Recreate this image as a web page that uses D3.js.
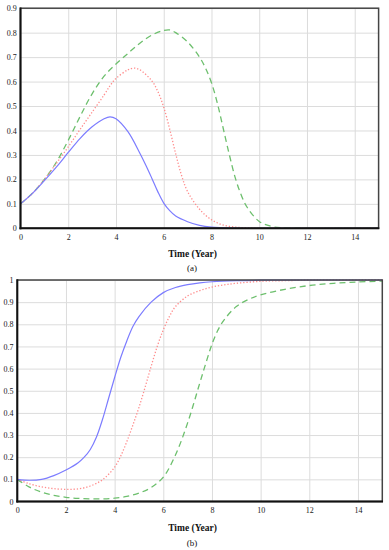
<!DOCTYPE html>
<html>
<head>
<meta charset="utf-8">
<script src="https://cdn.jsdelivr.net/npm/d3@7"></script>
<style>
  body { margin: 0; background: #fff; }
  svg { display: block; }
  text { font-family: "Liberation Serif", "Times New Roman", serif; }
</style>
</head>
<body>
<svg id="chart" width="389" height="550"></svg>
<script>
// panel (a)
const blueTimeA = [0, 0.5, 1, 1.5, 2, 2.5, 3, 3.5, 3.75, 4, 4.5, 5, 5.25, 5.5, 5.75, 6, 6.25, 6.5, 7, 7.5, 8, 9, 10, 15];
const blueA = [0.1, 0.143, 0.195, 0.25, 0.31, 0.368, 0.415, 0.448, 0.456, 0.448, 0.395, 0.307, 0.258, 0.205, 0.15, 0.103, 0.072, 0.05, 0.027, 0.012, 0.005, 0.001, 0, 0];
const redTimeA = [0, 0.5, 1, 1.5, 2, 2.5, 3, 3.5, 3.75, 4, 4.5, 4.75, 5, 5.5, 5.75, 6, 6.25, 6.5, 6.75, 7, 7.5, 8, 8.5, 9, 9.5, 10, 15];
const redA = [0.1, 0.143, 0.2, 0.265, 0.333, 0.405, 0.475, 0.545, 0.583, 0.613, 0.648, 0.655, 0.648, 0.603, 0.56, 0.495, 0.405, 0.305, 0.215, 0.15, 0.078, 0.035, 0.013, 0.005, 0.002, 0, 0];
const greenTimeA = [0, 0.5, 1, 1.5, 2, 2.5, 3, 3.5, 4, 4.5, 5, 5.5, 6, 6.25, 6.5, 7, 7.5, 7.75, 8, 8.25, 8.5, 8.75, 9, 9.25, 9.5, 10, 10.5, 11, 12, 15];
const greenA = [0.1, 0.143, 0.2, 0.27, 0.36, 0.458, 0.55, 0.622, 0.672, 0.715, 0.757, 0.79, 0.809, 0.811, 0.8, 0.762, 0.7, 0.655, 0.595, 0.51, 0.405, 0.3, 0.205, 0.135, 0.085, 0.028, 0.008, 0.002, 0, 0];

// panel (b)
const blueTimeB = [0, 0.5, 1, 1.5, 2, 2.5, 2.75, 3, 3.25, 3.5, 3.75, 4, 4.25, 4.5, 4.75, 5, 5.5, 6, 6.5, 7, 7.5, 8, 9, 10, 12, 15];
const blueB = [0.1, 0.096, 0.1, 0.117, 0.142, 0.175, 0.2, 0.235, 0.29, 0.37, 0.465, 0.56, 0.65, 0.725, 0.79, 0.835, 0.9, 0.943, 0.966, 0.979, 0.987, 0.992, 0.997, 0.999, 1, 1];
const redTimeB = [0, 0.5, 1, 1.5, 2, 2.5, 3, 3.5, 4, 4.25, 4.5, 4.75, 5, 5.25, 5.5, 5.75, 6, 6.25, 6.5, 7, 7.5, 8, 8.5, 9, 10, 11, 12, 15];
const redB = [0.1, 0.08, 0.066, 0.058, 0.055, 0.057, 0.07, 0.098, 0.155, 0.205, 0.27, 0.345, 0.425, 0.515, 0.61, 0.7, 0.775, 0.835, 0.88, 0.928, 0.952, 0.968, 0.978, 0.985, 0.994, 0.997, 0.999, 1];
const greenTimeB = [0, 0.5, 1, 1.5, 2, 2.5, 3, 3.5, 4, 4.5, 5, 5.5, 6, 6.5, 7, 7.5, 7.75, 8, 8.25, 8.5, 9, 9.5, 10, 11, 12, 13, 14, 15];
const greenB = [0.1, 0.065, 0.042, 0.028, 0.019, 0.014, 0.012, 0.012, 0.015, 0.023, 0.038, 0.063, 0.11, 0.21, 0.355, 0.535, 0.625, 0.71, 0.775, 0.82, 0.88, 0.912, 0.933, 0.958, 0.975, 0.985, 0.991, 0.995];

const xTicks = [0, 2, 4, 6, 8, 10, 12, 14];
const yTicksA = [0, 0.1, 0.2, 0.3, 0.4, 0.5, 0.6, 0.7, 0.8, 0.9];
const yTicksB = [0, 0.1, 0.2, 0.3, 0.4, 0.5, 0.6, 0.7, 0.8, 0.9, 1];
const xTitle = 'Time (Year)';

const styles = {
    green: { color: '#6dbf6d', dash: '6,4', width: 1.3 },
    red: { color: '#ff8c8c', dash: '1.3,1.9', width: 1.3 },
    blue: { color: '#7c7cff', dash: null, width: 1.2 }
};

const svg = d3.select('#chart');

drawPanel({ left: 20.5, right: 378.6, top: 8.2, bottom: 228.3, yMax: 0.9, yTicks: yTicksA,
    series: [['green', greenTimeA, greenA], ['red', redTimeA, redA], ['blue', blueTimeA, blueA]],
    xPad: 5.7, titleY: 257, tagY: 270.5, tag: '(a)' });
drawPanel({ left: 17.3, right: 382.3, top: 280, bottom: 501.5, yMax: 1, yTicks: yTicksB,
    series: [['green', greenTimeB, greenB], ['red', redTimeB, redB], ['blue', blueTimeB, blueB]],
    xPad: 5.5, titleY: 530.5, tagY: 546, tag: '(b)' });

function drawPanel(p) {
    const x = d3.scaleLinear().domain([0, 15]).range([p.left, p.right]);
    const y = d3.scaleLinear().domain([0, p.yMax]).range([p.bottom, p.top]);
    const g = svg.append('g');

    // grid
    g.append('g')
        .attr('transform', `translate(0,${p.bottom})`)
        .call(d3.axisBottom(x).tickValues(xTicks.slice(1)).tickSize(-(p.bottom - p.top)).tickFormat(''))
        .call(a => a.select('.domain').remove())
        .selectAll('line').attr('stroke', '#dcdcdc').attr('stroke-width', 1);
    g.append('g')
        .attr('transform', `translate(${p.left},0)`)
        .call(d3.axisLeft(y).tickValues(p.yTicks.slice(1)).tickSize(-(p.right - p.left)).tickFormat(''))
        .call(a => a.select('.domain').remove())
        .selectAll('line').attr('stroke', '#dcdcdc').attr('stroke-width', 1);

    // curves
    p.series.forEach(([name, times, values]) => {
        const st = styles[name];
        const line = d3.line()
            .x((d, i) => x(times[i]))
            .y(d => y(d))
            .curve(d3.curveCatmullRom.alpha(0.5));
        g.append('path')
            .datum(values)
            .attr('fill', 'none')
            .attr('stroke', st.color)
            .attr('stroke-width', st.width)
            .attr('stroke-dasharray', st.dash)
            .attr('d', line);
    });

    // frame
    g.append('rect')
        .attr('x', p.left).attr('y', p.top)
        .attr('width', p.right - p.left).attr('height', p.bottom - p.top)
        .attr('fill', 'none').attr('stroke', '#444').attr('stroke-width', 1.5);
    g.append('line').attr('x1', p.left).attr('x2', p.left).attr('y1', p.top - 0.7).attr('y2', p.bottom + 1)
        .attr('stroke', '#111').attr('stroke-width', 2);
    g.append('line').attr('x1', p.left - 1).attr('x2', p.right + 0.7).attr('y1', p.bottom).attr('y2', p.bottom)
        .attr('stroke', '#111').attr('stroke-width', 2);

    // tick labels
    const ax = g.append('g')
        .attr('transform', `translate(0,${p.bottom})`)
        .call(d3.axisBottom(x).tickValues(xTicks).tickSize(0).tickPadding(p.xPad));
    const ay = g.append('g')
        .attr('transform', `translate(${p.left},0)`)
        .call(d3.axisLeft(y).tickValues(p.yTicks).tickSize(0).tickPadding(3.8)
            .tickFormat(d => String(+d.toFixed(1))));
    [ax, ay].forEach(a => {
        a.attr('font-family', null);
        a.select('.domain').remove();
        a.selectAll('text').attr('font-size', '8px').attr('fill', '#222');
    });

    g.append('text')
        .attr('x', 192.5).attr('y', p.titleY)
        .attr('text-anchor', 'middle')
        .attr('font-size', '9.5px').attr('font-weight', 'bold').attr('fill', '#111')
        .text(xTitle);
    g.append('text')
        .attr('x', 192).attr('y', p.tagY)
        .attr('text-anchor', 'middle')
        .attr('font-size', '9px').attr('fill', '#111')
        .text(p.tag);
}
</script>
</body>
</html>
